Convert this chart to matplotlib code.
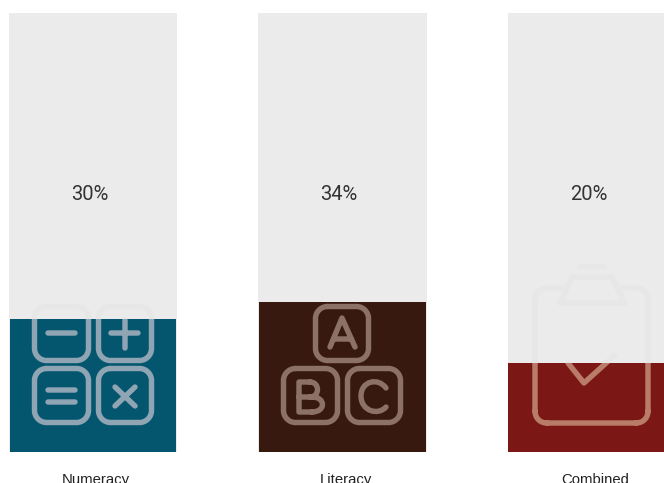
import matplotlib
matplotlib.use("Agg")
import matplotlib.pyplot as plt
from matplotlib.path import Path
from matplotlib.patches import PathPatch
from matplotlib.transforms import Affine2D

categories = ["Numeracy", "Literacy", "Combined"]
values = [30.4, 34.2, 20.3]
value_labels = ["30%", "34%", "20%"]
colors = ["#04566f", "#38190f", "#7b1815"]
icon_colors = ["#8fa5b3", "#8c7166", "#b97c69"]
grey = "#ebebeb"
icon_grey = "#e7e7e7"


def rbox(x0, y0, x1, y1, r=12):
    # rounded square, pixel coords
    k = r * 0.45
    v = [(x0 + r, y0), (x1 - r, y0), (x1 - k, y0), (x1, y0 + k), (x1, y0 + r),
         (x1, y1 - r), (x1, y1 - k), (x1 - k, y1), (x1 - r, y1),
         (x0 + r, y1), (x0 + k, y1), (x0, y1 - k), (x0, y1 - r),
         (x0, y0 + r), (x0, y0 + k), (x0 + k, y0), (x0 + r, y0)]
    c = [Path.MOVETO, Path.LINETO, Path.CURVE4, Path.CURVE4, Path.CURVE4,
         Path.LINETO, Path.CURVE4, Path.CURVE4, Path.CURVE4,
         Path.LINETO, Path.CURVE4, Path.CURVE4, Path.CURVE4,
         Path.LINETO, Path.CURVE4, Path.CURVE4, Path.CURVE4]
    return v, c


def poly(*pts):
    return list(pts), [Path.MOVETO] + [Path.LINETO] * (len(pts) - 1)


def curve(start, *ctrl):
    # start point then cubic triples
    return [start] + list(ctrl), [Path.MOVETO] + [Path.CURVE4] * len(ctrl)


def join(parts):
    v, c = [], []
    for a, b in parts:
        v += a
        c += b
    return Path(v, c)


calc = join([
    rbox(34.5, 306.5, 88.5, 360.5), rbox(98.5, 306.5, 151.5, 360.5),
    rbox(34.5, 368.5, 88.5, 422.5), rbox(98.5, 368.5, 151.5, 422.5),
    poly((48, 333), (75, 333)),
    poly((111, 333), (138, 333)), poly((125, 320), (125, 348)),
    poly((48, 390), (75, 390)), poly((48, 402), (75, 402)),
    poly((115, 387), (135, 406)), poly((135, 387), (115, 406)),
])
blocks = join([
    rbox(315.5, 306.5, 368.5, 360.5), rbox(283.5, 368.5, 337.5, 422.5),
    rbox(347.5, 368.5, 400.5, 422.5),
    poly((330, 347), (342, 318), (355, 347)), poly((334, 339), (351, 339)),
    poly((310, 382), (299, 382), (299, 412), (312, 412)),
    poly((299, 397), (312, 397)),
    curve((310, 382), (320, 382), (320, 397), (310, 397)),
    curve((312, 397), (326, 397), (326, 412), (312, 412)),
    curve((386, 388), (378, 377), (361, 381), (361, 396),
          (361, 411), (378, 416), (386, 407)),
])
clip = join([
    poly((565, 288), (547, 288)),
    curve((547, 288), (540, 288), (535, 293), (535, 300)),
    poly((535, 300), (535, 411)),
    curve((535, 411), (535, 418), (540, 423), (547, 423)),
    poly((547, 423), (636, 423)),
    curve((636, 423), (643, 423), (648, 418), (648, 411)),
    poly((648, 411), (648, 300)),
    curve((648, 300), (648, 293), (643, 288), (636, 288)),
    poly((636, 288), (618, 288)),
    poly((572, 277), (612, 277), (625, 303), (560, 303), (572, 277)),
    poly((580, 267), (604, 267)),
    poly((568, 363), (584, 383), (615, 355)),
])
icons = [calc, blocks, clip]

fig = plt.figure(figsize=(6.64, 4.83), dpi=100)
ax = fig.add_axes([0, 0, 1, 1])
x = list(range(len(categories)))
ax.bar(x, [100] * len(x), width=0.675, color=grey, linewidth=0, zorder=1)
bars = ax.bar(x, values, width=0.669, color=colors, linewidth=0, zorder=3)
ax.set_xlim(-0.373, 2.289)
ax.set_ylim(-7.06, 102.96)
ax.axis("off")

# icons are in image pixels, y downwards
pix = Affine2D().scale(1, -1).translate(0, 483)
for p, col, bar in zip(icons, icon_colors, bars):
    ax.add_patch(PathPatch(p, transform=pix, facecolor="none", edgecolor=icon_grey,
                           lw=3.9, capstyle="round", joinstyle="round", zorder=2))
    top = PathPatch(p, transform=pix, facecolor="none", edgecolor=col,
                    lw=3.9, capstyle="round", joinstyle="round", zorder=4)
    ax.add_patch(top)
    top.set_clip_path(bar)

for i, lab in enumerate(value_labels):
    ax.text(i - 0.014, 58.6, lab, ha="center", va="center", fontsize=14.5,
            color="#333333", family=["Liberation Sans Narrow", "Roboto"], zorder=5)
for i, cat in enumerate(categories):
    ax.text(i + 0.012, -7.3, cat, ha="center", va="baseline", fontsize=10.7,
            color="#222222", family="Liberation Sans", clip_on=False, zorder=5)

fig.savefig("out.png", dpi=100)
